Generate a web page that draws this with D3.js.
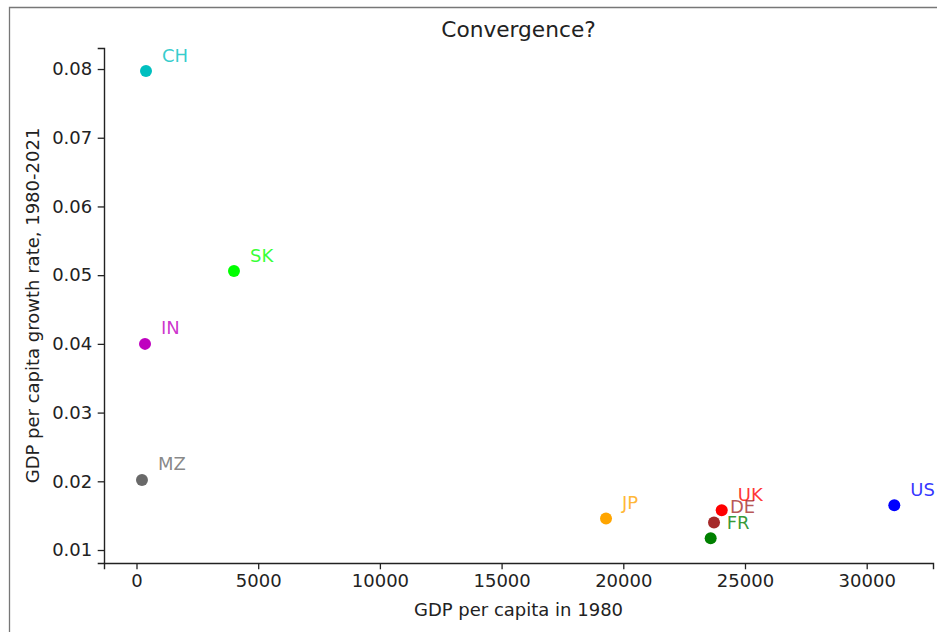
<!DOCTYPE html>
<html>
<head>
<meta charset="utf-8">
<script src="https://cdn.jsdelivr.net/npm/d3@7"></script>
<style>
  body { margin: 0; background: #fff; }
  svg { display: block; font-family: "DejaVu Sans", sans-serif; }
</style>
</head>
<body>
<svg id="chart"></svg>
<script>
// Data: country codes, GDP per capita in 1980, growth rate 1980-2021
var countries = ["CH", "SK", "IN", "MZ", "JP", "UK", "DE", "FR", "US"];
var gdp1980 = [390, 4005, 350, 225, 19290, 24043, 23727, 23590, 31134];
var growth = [0.0797, 0.0506, 0.0400, 0.0202, 0.0146, 0.0158, 0.0140, 0.0117, 0.0165];
var colors = ["#00bfbf", "#00ff00", "#bf00bf", "#696969", "#ffa500", "#ff0000", "#a52a2a", "#008000", "#0000ff"];
var xTicks = [0, 5000, 10000, 15000, 20000, 25000, 30000];
var yTicks = [0.01, 0.02, 0.03, 0.04, 0.05, 0.06, 0.07, 0.08];

var width = 937, height = 632;
var margin = { top: 48, right: 4, bottom: 69, left: 104 };

var svg = d3.select("#chart")
    .attr("width", width)
    .attr("height", height);

// outer frame (top and left edges visible)
svg.append("path")
    .attr("d", "M9.5," + height + "V7.5H" + width)
    .attr("fill", "none")
    .attr("stroke", "#777")
    .attr("stroke-width", 1.3);

var x = d3.scaleLinear()
    .domain([-1335, 32724])
    .range([margin.left, width - margin.right]);
var y = d3.scaleLinear()
    .domain([0.00811, 0.08306])
    .range([height - margin.bottom, margin.top]);

// Axes
var xAxis = svg.append("g")
    .attr("transform", "translate(0," + (height - margin.bottom) + ")")
    .call(d3.axisBottom(x).tickValues(xTicks).tickFormat(d3.format("d")).tickSizeOuter(0).tickSize(6.3).tickPadding(5));
var yAxis = svg.append("g")
    .attr("transform", "translate(" + margin.left + ",0)")
    .call(d3.axisLeft(y).tickValues(yTicks).tickFormat(d3.format(".2f")).tickSizeOuter(0).tickSize(6.3).tickPadding(5.5));

[xAxis, yAxis].forEach(function (a) {
    a.select(".domain").attr("stroke", "#222").attr("stroke-width", 1.4);
    a.selectAll(".tick line").attr("stroke", "#222").attr("stroke-width", 1.3);
    a.selectAll(".tick text").attr("fill", "#222").style("font-size", "18px").style("font-family", "DejaVu Sans");
});

// Points
var idx = d3.range(countries.length);
svg.append("g").selectAll("circle")
    .data(idx)
    .enter().append("circle")
    .attr("cx", function (i) { return x(gdp1980[i]); })
    .attr("cy", function (i) { return y(growth[i]); })
    .attr("r", 6)
    .attr("fill", function (i) { return colors[i]; });

// Labels, offset up-right of each point
svg.append("g").selectAll("text")
    .data(idx)
    .enter().append("text")
    .attr("x", function (i) { return x(gdp1980[i]) + 16; })
    .attr("y", function (i) { return y(growth[i]) - 9.5; })
    .attr("fill", function (i) { return colors[i]; })
    .attr("fill-opacity", 0.8)
    .style("font-size", "18px")
    .text(function (i) { return countries[i]; });

// Title and axis labels
svg.append("text")
    .attr("x", (margin.left + width - margin.right) / 2)
    .attr("y", 37)
    .attr("text-anchor", "middle")
    .attr("fill", "#222")
    .style("font-size", "21.7px")
    .text("Convergence?");

svg.append("text")
    .attr("x", (margin.left + width - margin.right) / 2)
    .attr("y", 616)
    .attr("text-anchor", "middle")
    .attr("fill", "#222")
    .style("font-size", "18px")
    .text("GDP per capita in 1980");

svg.append("text")
    .attr("transform", "translate(38.5," + (margin.top + height - margin.bottom) / 2 + ") rotate(-90)")
    .attr("text-anchor", "middle")
    .attr("fill", "#222")
    .style("font-size", "18px")
    .text("GDP per capita growth rate, 1980-2021");
</script>
</body>
</html>
